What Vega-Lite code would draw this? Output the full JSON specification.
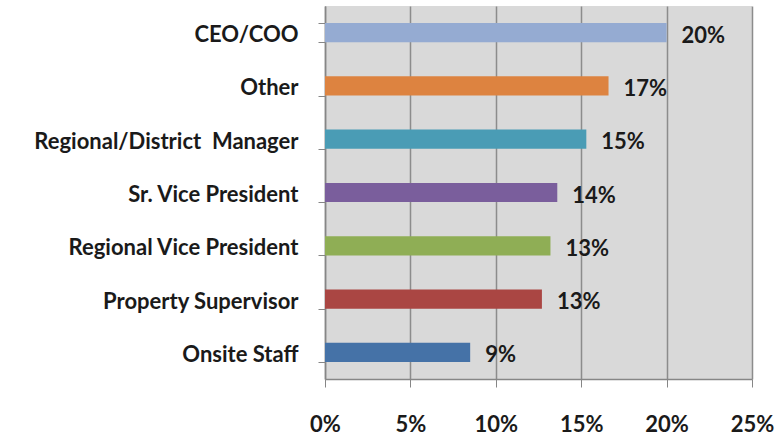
{
  "$schema": "https://vega.github.io/schema/vega-lite/v6.json",
  "width": 427,
  "height": 373,
  "autosize": {"type": "none"},
  "padding": {"left": 325, "top": 6, "right": 26, "bottom": 58},
  "background": "white",
  "config": {
    "view": {"fill": "#d9d9d9", "stroke": null},
    "font": "Lato"
  },
  "data": {
    "values": [
      {"role": "CEO/COO", "value": 0.200, "label": "20%", "color": "#95abd2"},
      {"role": "Other", "value": 0.166, "label": "17%", "color": "#dd8340"},
      {"role": "Regional/District\u00a0 Manager", "value": 0.153, "label": "15%", "color": "#4a9cb5"},
      {"role": "Sr. Vice President", "value": 0.136, "label": "14%", "color": "#7a5e9c"},
      {"role": "Regional Vice President", "value": 0.132, "label": "13%", "color": "#8fae55"},
      {"role": "Property Supervisor", "value": 0.127, "label": "13%", "color": "#aa4643"},
      {"role": "Onsite Staff", "value": 0.085, "label": "9%", "color": "#4572a7"}
    ]
  },
  "encoding": {
    "y": {
      "field": "role",
      "type": "nominal",
      "sort": null,
      "scale": {"paddingInner": 0.64, "paddingOuter": 0.32},
      "axis": {
        "title": null,
        "tickBand": "extent",
        "tickSize": 7,
        "tickColor": "#868686",
        "domainColor": "#868686",
        "domainWidth": 1.5,
        "labelPadding": 20,
        "labelOffset": 2,
        "labelFont": "Lato",
        "labelFontWeight": "bold",
        "labelFontSize": 22,
        "labelColor": "#1a1a1a",
        "labelLimit": 400,
        "grid": false
      }
    },
    "x": {
      "field": "value",
      "type": "quantitative",
      "scale": {"domain": [0, 0.25], "nice": false},
      "axis": {
        "title": null,
        "format": ".0%",
        "values": [0, 0.05, 0.1, 0.15, 0.2, 0.25],
        "tickSize": 8,
        "tickColor": "#868686",
        "domainColor": "#868686",
        "domainWidth": 1.5,
        "grid": true,
        "gridColor": "#8c8c8c",
        "gridWidth": 1.5,
        "labelFlush": false,
        "labelPadding": 27,
        "labelFont": "Lato",
        "labelFontWeight": "bold",
        "labelFontSize": 22,
        "labelColor": "#1a1a1a",
        "labelBaseline": "top"
      }
    }
  },
  "layer": [
    {
      "mark": {"type": "bar"},
      "encoding": {
        "color": {"field": "color", "type": "nominal", "scale": null, "legend": null}
      }
    },
    {
      "mark": {"type": "text", "align": "left", "dx": 15, "dy": 3, "fontWeight": "bold", "fontSize": 22, "font": "Lato", "color": "#1a1a1a"},
      "encoding": {
        "text": {"field": "label"}
      }
    }
  ]
}
